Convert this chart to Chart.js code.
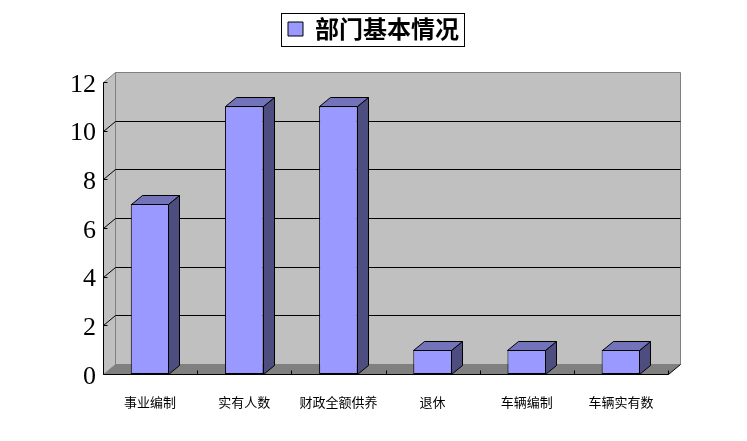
<!DOCTYPE html>
<html>
<head>
<meta charset="utf-8">
<script src="https://cdn.jsdelivr.net/npm/chart.js@4/dist/chart.umd.min.js"></script>
<style>
  html, body { margin: 0; padding: 0; background: #ffffff; }
  #wrap { width: 747px; height: 441px; position: relative; }
</style>
</head>
<body>
<div id="wrap"><canvas id="c" width="747" height="441"></canvas></div>
<script>
// ---- data ----
const categories = ['事业编制', '实有人数', '财政全额供养', '退休', '车辆编制', '车辆实有数'];
const values = [7, 11, 11, 1, 1, 1];
const seriesName = '部门基本情况';
const yTickValues = [0, 2, 4, 6, 8, 10, 12];

// ---- 3D look ----
const WALL_DX = 12, WALL_DY = -10;
const BAR_DX = 11, BAR_DY = -9;
const FRONT = '#9999ff', TOP = '#7373b9', SIDE = '#4d4d80';

function poly(ctx, pts, fill, stroke) {
  ctx.beginPath();
  ctx.moveTo(pts[0][0], pts[0][1]);
  for (let i = 1; i < pts.length; i++) ctx.lineTo(pts[i][0], pts[i][1]);
  ctx.closePath();
  if (fill) { ctx.fillStyle = fill; ctx.fill(); }
  if (stroke) { ctx.strokeStyle = stroke; ctx.stroke(); }
}
function line(ctx, x1, y1, x2, y2, color) {
  ctx.beginPath(); ctx.moveTo(x1, y1); ctx.lineTo(x2, y2);
  ctx.strokeStyle = color; ctx.stroke();
}

const walls3d = {
  id: 'walls3d',
  beforeDatasetsDraw(chart) {
    const { ctx, chartArea, scales } = chart;
    const y = scales.y;
    const L = Math.round(chartArea.left) + 0.5, R = Math.round(chartArea.right) + 0.5;
    const T = Math.round(chartArea.top) + 0.5, B = Math.round(chartArea.bottom) + 0.5;
    ctx.save();
    ctx.lineWidth = 1;
    // back wall
    poly(ctx, [[L + WALL_DX, T + WALL_DY], [R + WALL_DX, T + WALL_DY], [R + WALL_DX, B + WALL_DY], [L + WALL_DX, B + WALL_DY]], '#c0c0c0', '#808080');
    // left wall
    poly(ctx, [[L, T], [L + WALL_DX, T + WALL_DY], [L + WALL_DX, B + WALL_DY], [L, B]], '#c0c0c0', '#808080');
    // floor
    poly(ctx, [[L, B], [L + WALL_DX, B + WALL_DY], [R + WALL_DX, B + WALL_DY], [R, B]], '#808080', null);
    // gridlines on back & left wall
    const maxV = yTickValues[yTickValues.length - 1];
    yTickValues.forEach(v => {
      if (v <= 0 || v >= maxV) return;
      const py = Math.round(y.getPixelForValue(v)) + 0.5;
      line(ctx, L + WALL_DX, py + WALL_DY, R + WALL_DX, py + WALL_DY, '#000');
      line(ctx, L, py, L + WALL_DX, py + WALL_DY, '#000');
    });
    // front value axis with small ticks
    line(ctx, L, T, L, B, '#000');
    yTickValues.forEach(v => {
      const py = Math.round(y.getPixelForValue(v)) + 0.5;
      line(ctx, L, py, L + 4, py, '#000');
    });
    ctx.restore();
  },
  afterDatasetsDraw(chart) {
    const { ctx, chartArea } = chart;
    const meta = chart.getDatasetMeta(0);
    ctx.save();
    ctx.lineWidth = 1;
    meta.data.forEach(bar => {
      const p = bar.getProps(['x', 'y', 'base', 'width'], true);
      const xl = Math.round(p.x - p.width / 2) + 0.5;
      const xr = Math.round(p.x + p.width / 2) - 0.5;
      const yt = Math.round(p.y) + 0.5;
      const yb = Math.round(p.base) + 0.5;
      poly(ctx, [[xr, yt], [xr + BAR_DX, yt + BAR_DY], [xr + BAR_DX, yb + BAR_DY], [xr, yb]], SIDE, '#000');
      poly(ctx, [[xl, yt], [xl + BAR_DX, yt + BAR_DY], [xr + BAR_DX, yt + BAR_DY], [xr, yt]], TOP, '#000');
    });
    // front category axis line, right floor edge, category ticks
    const L = Math.round(chartArea.left) + 0.5, R = Math.round(chartArea.right) + 0.5;
    const B = Math.round(chartArea.bottom) + 0.5;
    line(ctx, L, B, R, B, '#000');
    line(ctx, R, B, R + WALL_DX, B + WALL_DY, '#000');
    const n = categories.length;
    for (let i = 0; i <= n; i++) {
      const x = Math.round(chartArea.left + i * (chartArea.right - chartArea.left) / n) + 0.5;
      line(ctx, x, B, x, B - 4, '#000');
    }
    ctx.restore();
  },
  afterDraw(chart) {
    const lg = chart.legend;
    if (!lg || !lg.legendHitBoxes || !lg.legendHitBoxes.length) return;
    const hb = lg.legendHitBoxes[0];
    const ctx = chart.ctx;
    const cy = hb.top + hb.height / 2;
    ctx.save();
    ctx.lineWidth = 1;
    ctx.strokeStyle = '#000';
    ctx.strokeRect(Math.round(hb.left - 7) + 0.5, Math.round(cy - 16.5) + 0.5, Math.round(hb.width + 12), 33);
    ctx.restore();
  }
};

new Chart(document.getElementById('c'), {
  type: 'bar',
  data: {
    labels: categories,
    datasets: [{
      label: seriesName,
      data: values,
      backgroundColor: FRONT,
      borderColor: '#000',
      borderWidth: 1,
      borderSkipped: false,
      categoryPercentage: 1.0,
      barPercentage: 0.41
    }]
  },
  options: {
    responsive: false,
    animation: false,
    devicePixelRatio: 1,
    layout: { padding: { left: 0, right: 0, top: 7, bottom: 0 } },
    plugins: {
      legend: {
        display: true,
        position: 'top',
        labels: {
          color: '#000',
          boxWidth: 15,
          boxHeight: 14,
          padding: 10,
          font: { family: '"Noto Sans CJK SC", sans-serif', size: 24, weight: 'bold' }
        }
      },
      tooltip: { enabled: false }
    },
    scales: {
      x: {
        type: 'category',
        position: 'bottom',
        grid: { display: false, drawTicks: false },
        border: { display: false },
        ticks: {
          color: '#000',
          maxRotation: 0,
          autoSkip: false,
          padding: 20,
          font: { family: '"Noto Sans CJK SC", sans-serif', size: 13 }
        },
        afterFit(s) { s.height = 67; }
      },
      xTop: {
        type: 'linear',
        position: 'top',
        display: true,
        grid: { display: false, drawTicks: false },
        border: { display: false },
        ticks: { display: false },
        afterFit(s) { s.height = 31; }
      },
      y: {
        type: 'linear',
        position: 'left',
        min: yTickValues[0],
        max: yTickValues[yTickValues.length - 1],
        grid: { display: false, drawTicks: false },
        border: { display: false },
        ticks: {
          stepSize: 2,
          color: '#000',
          padding: 7,
          labelOffset: 3,
          font: { family: '"Liberation Serif", "Times New Roman", serif', size: 26 }
        },
        afterFit(s) { s.width = 103; }
      },
      yRight: {
        type: 'linear',
        position: 'right',
        display: true,
        grid: { display: false, drawTicks: false },
        border: { display: false },
        ticks: { display: false },
        afterFit(s) { s.width = 79; }
      }
    }
  },
  plugins: [walls3d]
});
</script>
</body>
</html>
